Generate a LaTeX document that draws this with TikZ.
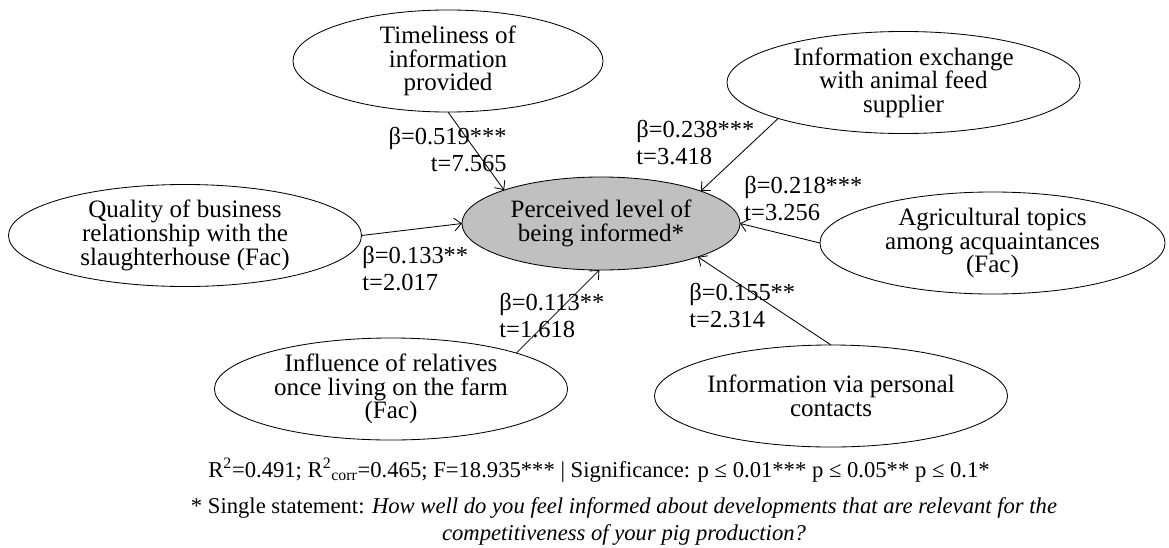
\documentclass[tikz,border=0pt]{standalone}
\usepackage{fontspec}
\setmainfont{Liberation Serif}
\usetikzlibrary{shapes.geometric, arrows.meta}

\definecolor{targetgray}{RGB}{192,192,192}

\begin{document}
\begin{tikzpicture}[
            x = 0.025cm, y = -0.025cm, % one unit = one pixel of the sketch
            > = {Straight Barb[length=5pt, width=9pt]}, % arrow head style
            semithick % line style
        ]

        \tikzstyle{every node}=[font=\fontsize{17.8}{16.8}\selectfont]
        \tikzstyle{latent}=[
            ellipse,
            draw = black,
            fill = white,
            align = center,
            inner sep = 0pt,
            outer sep = 0pt,
            minimum width = 8.825cm,
            minimum height = 2.55cm
        ]
        \tikzstyle{target}=[latent, fill = targetgray,
            minimum width = 6.95cm, minimum height = 2.325cm]
        \tikzstyle{coef}=[inner sep = 0pt,
            font = \fontsize{17.4}{19.2}\selectfont]
        \tikzstyle{caption}=[align = center,
            font = \fontsize{16.1}{19.2}\selectfont]

        \useasboundingbox (0,0) rectangle (1169,547);

        \node[target] (cen) at (601,223.5) {Perceived level of\\being informed*};
        \node[latent, minimum width = 7.75cm] (tim) at (448,61) {Timeliness of\\information\\provided};
        \node[latent] (qua) at (185,235.5) {Quality of business\\relationship with the\\slaughterhouse (Fac)};
        \node[latent] (exch) at (903.5,82.5) {Information exchange\\with animal feed\\supplier};
        \node[latent, minimum width = 8.625cm] (agr) at (992.5,243) {Agricultural topics\\among acquaintances\\(Fac)};
        \node[latent] (infl) at (391,389) {Influence of relatives\\once living on the farm\\(Fac)};
        \node[latent] (pers) at (831,396) {Information via personal\\contacts};

        \path[->] (tim.south) edge (cen.161);
        \path[->] (qua.east) edge (cen.west);
        \path[->] (exch.196) edge (cen.18);
        \path[->] (agr.west) edge (cen.east);
        \path[->] (infl.16) edge (cen.268);
        \path[->] (pers.north) edge (cen.341);

        \node[coef, anchor=east, align=right] (bTim) at (507,150) {β=0.519***\\t=7.565};
        \node[coef, anchor=west, align=left] (bQua) at (362,268.5) {β=0.133**\\t=2.017};
        \node[coef, anchor=west, align=left] (bExch) at (636,142.5) {β=0.238***\\t=3.418};
        \node[coef, anchor=west, align=left] (bAgr) at (744,198.5) {β=0.218***\\t=3.256};
        \node[coef, anchor=west, align=left] (bInfl) at (499,316) {β=0.113**\\t=1.618};
        \node[coef, anchor=west, align=left] (bPers) at (689,306) {β=0.155**\\t=2.314};

        % model fit and footnote
        \node[caption] (fit) at (599,470) {R\textsuperscript{2}=0.491; R\textsuperscript{2}\textsubscript{corr}=0.465; F=18.935*** | Significance: p ≤ 0.01*** p ≤ 0.05** p ≤ 0.1*};
        \node[caption] (note) at (624,521) {* Single statement: \textit{How well do you feel informed about developments that are relevant for the}\\\textit{competitiveness of your pig production?}};

  \end{tikzpicture}
\end{document}
